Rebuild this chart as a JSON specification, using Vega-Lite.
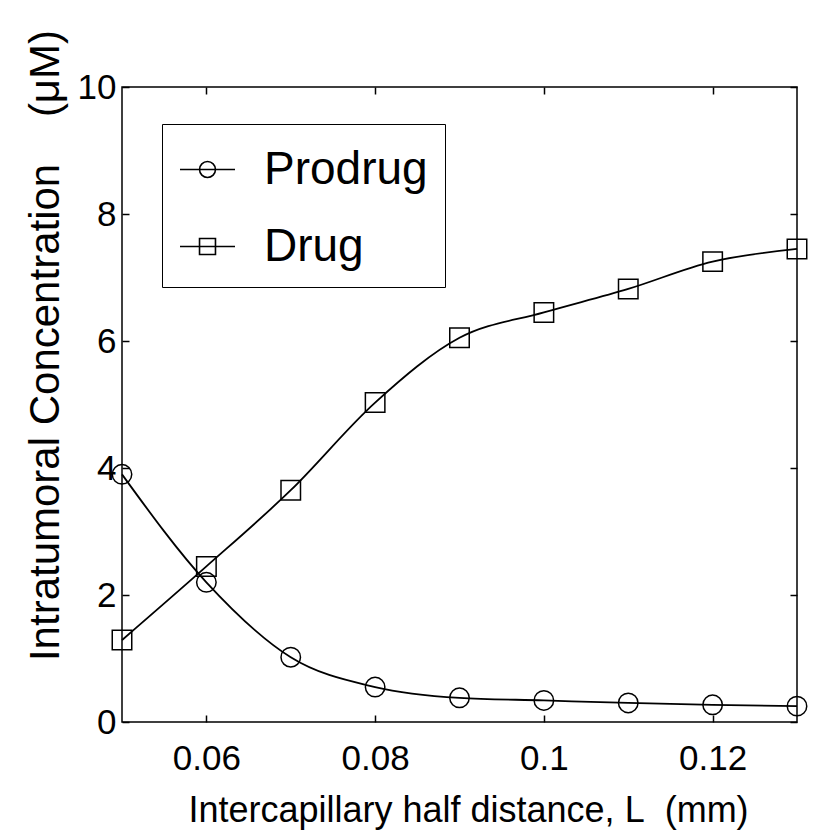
{
  "$schema": "https://vega.github.io/schema/vega-lite/v6.json",
  "width": 675,
  "height": 635,
  "autosize": "none",
  "padding": {"left": 122, "top": 87, "right": 23, "bottom": 109},
  "background": "white",
  "config": {
    "font": "Liberation Sans",
    "view": {"stroke": "black", "strokeWidth": 1.5},
    "axis": {
      "grid": false,
      "domain": false,
      "tickColor": "black",
      "tickWidth": 1.5,
      "tickSize": -7,
      "labelColor": "black",
      "titleColor": "black",
      "labelFont": "Liberation Sans",
      "titleFont": "Liberation Sans",
      "labelFontSize": 35,
      "titleFontSize": 36,
      "labelFontWeight": "normal",
      "titleFontWeight": "normal"
    }
  },
  "data": {
    "values": [
      {"L": 0.05, "series": "Prodrug", "conc": 3.9},
      {"L": 0.06, "series": "Prodrug", "conc": 2.2},
      {"L": 0.07, "series": "Prodrug", "conc": 1.02},
      {"L": 0.08, "series": "Prodrug", "conc": 0.55},
      {"L": 0.09, "series": "Prodrug", "conc": 0.38},
      {"L": 0.10, "series": "Prodrug", "conc": 0.34},
      {"L": 0.11, "series": "Prodrug", "conc": 0.3},
      {"L": 0.12, "series": "Prodrug", "conc": 0.27},
      {"L": 0.13, "series": "Prodrug", "conc": 0.25},
      {"L": 0.05, "series": "Drug", "conc": 1.29},
      {"L": 0.06, "series": "Drug", "conc": 2.45},
      {"L": 0.07, "series": "Drug", "conc": 3.65},
      {"L": 0.08, "series": "Drug", "conc": 5.03},
      {"L": 0.09, "series": "Drug", "conc": 6.05},
      {"L": 0.10, "series": "Drug", "conc": 6.45},
      {"L": 0.11, "series": "Drug", "conc": 6.82},
      {"L": 0.12, "series": "Drug", "conc": 7.25},
      {"L": 0.13, "series": "Drug", "conc": 7.45}
    ]
  },
  "resolve": {"scale": {"shape": "independent"}},
  "layer": [
    {
      "mark": {"type": "line", "interpolate": "monotone", "color": "black", "strokeWidth": 1.8},
      "encoding": {
        "x": {
          "field": "L", "type": "quantitative",
          "scale": {"domain": [0.05, 0.13], "nice": false, "zero": false},
          "axis": {
            "orient": "bottom",
            "values": [0.06, 0.08, 0.1, 0.12],
            "format": "~g",
            "labelPadding": 26,
            "title": "Intercapillary half distance, L\u00a0\u00a0(mm)",
            "titlePadding": 17,
            "titleX": 346
          }
        },
        "y": {
          "field": "conc", "type": "quantitative",
          "scale": {"domain": [0, 10], "nice": false},
          "axis": {
            "orient": "left",
            "values": [0, 2, 4, 6, 8, 10],
            "format": "d",
            "labelPadding": 13,
            "title": "Intratumoral Concentration\u00a0\u00a0\u00a0 (\u03bcM)",
            "titleFontSize": 42,
            "titleY": 258,
            "titlePadding": 10
          }
        },
        "detail": {"field": "series"}
      }
    },
    {
      "mark": {"type": "point", "filled": false, "color": "black", "strokeWidth": 1.5, "opacity": 1, "size": 380},
      "encoding": {
        "x": {
          "field": "L", "type": "quantitative",
          "axis": {"orient": "top", "values": [0.06, 0.08, 0.1, 0.12], "labels": false, "title": null}
        },
        "y": {
          "field": "conc", "type": "quantitative",
          "axis": {"orient": "right", "values": [0, 2, 4, 6, 8, 10], "labels": false, "title": null}
        },
        "shape": {
          "field": "series", "type": "nominal",
          "scale": {"domain": ["Prodrug", "Drug"], "range": ["circle", "square"]},
          "legend": null
        }
      }
    },
    {
      "transform": [{"filter": "datum.L < 0"}],
      "mark": {"type": "point", "filled": false, "color": "black", "strokeWidth": 1.5, "opacity": 1},
      "encoding": {
        "x": {"field": "L", "type": "quantitative", "axis": null},
        "y": {"field": "conc", "type": "quantitative", "axis": null},
        "shape": {
          "field": "series", "type": "nominal",
          "scale": {
            "domain": ["Prodrug", "Drug"],
            "range": [
              "M-1,0H1M0.29,0A0.29,0.29 0 1,1 -0.29,0A0.29,0.29 0 1,1 0.29,0Z",
              "M-1,0H1M-0.29,-0.29H0.29V0.29H-0.29Z"
            ]
          },
          "legend": {
            "orient": "none",
            "legendX": 40,
            "legendY": 37,
            "title": null,
            "strokeColor": "black",
            "fillColor": "white",
            "padding": 17,
            "rowPadding": 25,
            "symbolSize": 3025,
            "symbolStrokeWidth": 1.6,
            "symbolStrokeColor": "black",
            "symbolFillColor": "transparent",
            "symbolOpacity": 1,
            "labelOffset": 28,
            "labelFont": "Liberation Sans",
            "labelFontSize": 46,
            "labelColor": "black",
            "labelLimit": 400,
            "encode": {
              "labels": {
                "update": {
                  "fontSize": {"signal": "datum.value === 'Prodrug' ? 48 : 37"}
                }
              }
            }
          }
        }
      }
    }
  ]
}
